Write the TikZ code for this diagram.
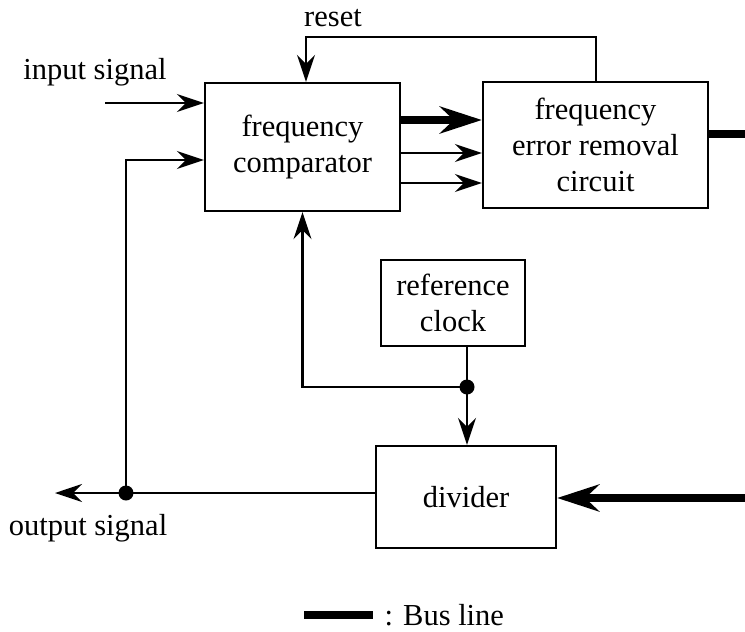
\documentclass[tikz,border=0pt]{standalone}
\usepackage{fontspec}
\setmainfont{Liberation Serif}
\usetikzlibrary{arrows.meta,calc}
\begin{document}
\begin{tikzpicture}[x=1pt,y=-1pt,
  every node/.style={font=\fontsize{30.5}{36}\selectfont},
  blk/.style={draw,line width=2.3pt,inner sep=0pt,align=center},
  wire/.style={line width=2.3pt},
  arr/.style={wire,-{Stealth[length=27pt,width=18pt,inset=9pt]}},
  bus/.style={line width=8.5pt},
  busarr/.style={bus,-{Stealth[length=42pt,width=27pt,inset=14pt]}},
  junct/.style={circle,fill,inner sep=0pt,minimum size=15pt}]
\useasboundingbox (0,0) rectangle (745,632);

% blocks
\node[blk,minimum width=195pt,minimum height=128pt] (comp) at (302.5,147) {frequency\\comparator};
\node[blk,minimum width=225pt,minimum height=126pt] (err) at (595.5,145) {frequency\\error removal\\circuit};
\node[blk,minimum width=144pt,minimum height=86pt] (ref) at (453,303) {reference\\clock};
\node[blk,minimum width=180pt,minimum height=102pt] (div) at (466,497) {divider};

% labels
\node (lreset) at (333,18) {reset};
\node (lin) at (95,72) {input signal};
\node (lout) at (88,528) {output signal};

% input signal
\coordinate (in) at (105,103);
\draw[arr] (in) -- (in -| comp.west);

% reset feedback
\coordinate (rs) at (306,37);
\draw[arr] ([xshift=114pt]err.north west) |- (rs) -- (rs |- comp.north);

% comparator to error removal
\draw[busarr] (comp.east |- 0,120) -- (err.west |- 0,120);
\draw[arr] (comp.east |- 0,153) -- (err.west |- 0,153);
\draw[arr] (comp.east |- 0,183) -- (err.west |- 0,183);

% error removal output bus
\coordinate (eo) at (745,134);
\draw[bus] (err.east |- eo) -- (eo);

% output signal and feedback
\coordinate (j1) at (126,493);
\coordinate (oend) at (55,493);
\draw[arr] (div.west |- j1) -- (oend);
\draw[arr] (j1) |- (comp.west |- 0,160);
\node[junct] at (j1) {};

% reference clock distribution
\coordinate (j2) at (467,387);
\draw[wire] (ref.south -| j2) -- (j2);
\draw[arr] (j2) -- (j2 |- div.north);
\draw[arr] (j2) -| (comp.south);
\node[junct] at (j2) {};

% bus into divider
\coordinate (bi) at (745,498);
\draw[busarr] (bi) -- (div.east |- bi);

% legend
\coordinate (lg1) at (304,615);
\coordinate (lg2) at (373,615);
\draw[bus] (lg1) -- (lg2);
\node[anchor=west] (lbus) at (381,615) {: Bus line};
\end{tikzpicture}
\end{document}
